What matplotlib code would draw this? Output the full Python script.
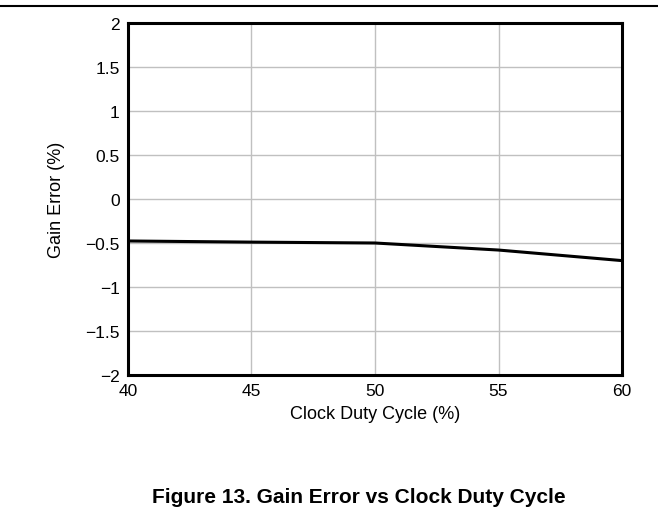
import matplotlib
matplotlib.use("Agg")
import matplotlib.pyplot as plt
from matplotlib.lines import Line2D

plt.rcParams['font.family'] = ['Liberation Sans', 'DejaVu Sans']

duty = [40, 45, 50, 55, 60]
gain_err = [-0.477, -0.49, -0.50, -0.58, -0.70]
xticks = [40, 45, 50, 55, 60]
yticks = [-2, -1.5, -1, -0.5, 0, 0.5, 1, 1.5, 2]
ytick_labels = ['\u22122', '\u22121.5', '\u22121', '\u22120.5', '0', '0.5', '1', '1.5', '2']

fig = plt.figure(figsize=(6.58, 5.10), dpi=100)
ax = fig.add_axes([0.1945, 0.2627, 0.7508, 0.6903])
ax.plot(duty, gain_err, color='black', lw=2.2, zorder=3)
ax.set_xlim(40, 60)
ax.set_ylim(-2, 2)
ax.set_xticks(xticks)
ax.set_yticks(yticks)
ax.set_yticklabels(ytick_labels)
ax.grid(True, color='#c0c0c0', lw=1.0)
ax.tick_params(length=0, labelsize=12.5, pad=6)
for s in ax.spines.values():
    s.set_linewidth(2.2)
ax.set_xlabel('Clock Duty Cycle (%)', fontsize=13, labelpad=5)
ax.set_ylabel('Gain Error (%)', fontsize=13)
ax.yaxis.set_label_coords(-0.128, 0.5)

fig.add_artist(Line2D([0, 1], [0.987, 0.987], color='black', lw=1.5, transform=fig.transFigure))
fig.text(0.546, 0.0137, 'Figure 13. Gain Error vs Clock Duty Cycle', ha='center', va='baseline',
         fontsize=15, fontweight='bold')

fig.savefig('out.png', dpi=100)
